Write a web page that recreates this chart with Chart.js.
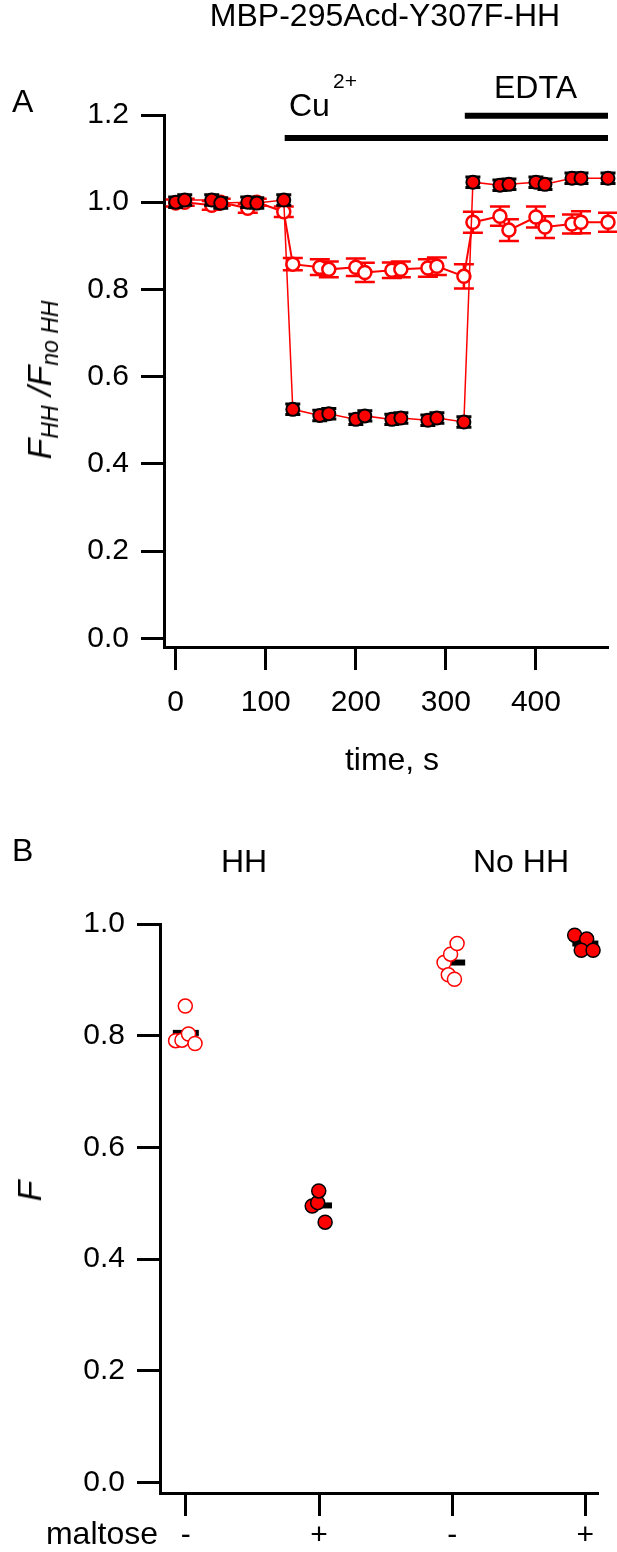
<!DOCTYPE html>
<html><head><meta charset="utf-8">
<script src="https://cdn.jsdelivr.net/npm/chart.js@4/dist/chart.umd.min.js"></script>
<style>
html,body{margin:0;padding:0;background:#fff;}
body{width:617px;height:1552px;position:relative;overflow:hidden;font-family:'Liberation Sans',Arial,sans-serif;color:#000;}
.t{position:absolute;white-space:nowrap;line-height:1;font-size:32px;}
.c{transform:translateX(-50%);}
.rot{transform:translate(-50%,-50%) rotate(-90deg);font-style:italic;}
#wa{position:absolute;left:0;top:0;width:617px;height:800px;}
#wb{position:absolute;left:0;top:800px;width:617px;height:752px;}
sub{font-size:23px;vertical-align:-7px;line-height:1;}
</style></head><body>
<div id="wa"><canvas id="ca"></canvas></div>
<div id="wb"><canvas id="cb"></canvas></div>
<div class="t c" style="left:385px;top:-1px;">MBP-295Acd-Y307F-HH</div>
<div class="t" style="left:12px;top:85px;">A</div>
<div class="t" style="left:289px;top:89px;">Cu</div>
<div class="t" style="left:333px;top:70px;font-size:21px;">2+</div>
<div class="t" style="left:494px;top:71px;">EDTA</div>
<div class="t c" style="left:392px;top:743px;">time, s</div>
<div class="t rot" style="left:42px;top:380px;font-size:34px;">F<sub>HH</sub> /F<sub>no HH</sub></div>
<div class="t" style="left:12px;top:834px;">B</div>
<div class="t c" style="left:244px;top:845px;">HH</div>
<div class="t c" style="left:521px;top:845px;">No HH</div>
<div class="t" style="right:459px;top:1517px;">maltose</div>
<div class="t rot" style="left:29px;top:1191px;font-size:34px;">F</div>
<script>
// ---------- Panel A data ----------
const timeS = [0,10,40,50,80,90,120,130,160,170,200,210,240,250,280,290,320,330,360,370,400,410,440,450,480];
const plusMaltose = [1.000,1.005,1.005,0.998,1.000,0.998,1.005,0.525,0.511,0.515,0.502,0.510,0.502,0.505,0.500,0.505,0.496,1.046,1.039,1.041,1.046,1.041,1.055,1.055,1.055];
const plusMaltoseErr = [0.012,0.012,0.012,0.012,0.012,0.012,0.012,0.012,0.012,0.012,0.012,0.012,0.012,0.012,0.012,0.012,0.012,0.012,0.012,0.012,0.012,0.012,0.012,0.012,0.012];
const minusMaltose = [0.998,1.000,0.993,1.000,0.986,1.000,0.978,0.858,0.851,0.846,0.851,0.839,0.844,0.846,0.849,0.853,0.830,0.954,0.968,0.936,0.966,0.943,0.950,0.954,0.954];
const minusMaltoseErr = [0.008,0.008,0.010,0.008,0.010,0.008,0.012,0.014,0.018,0.018,0.020,0.022,0.018,0.018,0.020,0.020,0.028,0.024,0.022,0.025,0.024,0.025,0.022,0.025,0.022];
const timeTicks = [0,100,200,300,400];
const ratioTicks = [0,0.2,0.4,0.6,0.8,1.0,1.2];
const treatmentSpans = [[121,480],[321,480]];   // Cu2+, EDTA (s)

// ---------- Panel B data ----------
const maltoseLabels = ['-','+','-','+'];
const hhMinus = [0.791,0.792,0.803,0.786,0.853];
const hhMinusJitter = [-0.077,-0.029,0.020,0.069,-0.004];
const hhPlus = [0.495,0.501,0.522,0.466];
const hhPlusJitter = [-0.051,-0.010,-0.002,0.046];
const noHhMinus = [0.931,0.946,0.965,0.909,0.901];
const noHhMinusJitter = [-0.061,-0.012,0.037,-0.029,0.017];
const noHhPlus = [0.980,0.973,0.953,0.953];
const noHhPlusJitter = [-0.080,0.010,-0.031,0.058];
const groupMeans = [0.805,0.496,0.931,0.965];
const fTicks = [0,0.2,0.4,0.6,0.8,1.0];

Chart.defaults.font.family = "'Liberation Sans', Arial, sans-serif";
Chart.defaults.font.size = 30;
Chart.defaults.color = '#000';
Chart.defaults.animation = false;

const errorBars = {
  id:'errorBars',
  beforeDatasetDraw(chart, args){
    const ds = chart.data.datasets[args.index];
    if(!ds.errors) return;
    const ctx = chart.ctx, ys = chart.scales.y;
    ctx.save();
    ctx.strokeStyle = ds.errorColor; ctx.lineWidth = ds.errorWidth; ctx.lineCap='butt';
    args.meta.data.forEach((pt,j)=>{
      const v = ds.data[j].y, e = ds.errors[j];
      const y1 = ys.getPixelForValue(v+e), y2 = ys.getPixelForValue(v-e), x = pt.x, c = ds.capHalf;
      ctx.beginPath();
      ctx.moveTo(x,y1); ctx.lineTo(x,y2);
      ctx.moveTo(x-c,y1); ctx.lineTo(x+c,y1);
      ctx.moveTo(x-c,y2); ctx.lineTo(x+c,y2);
      ctx.stroke();
    });
    ctx.restore();
  }
};

const treatmentBars = {
  id:'treatmentBars',
  afterDraw(chart, args, opts){
    const ctx = chart.ctx, xs = chart.scales.x, ys = chart.scales.y;
    ctx.save(); ctx.strokeStyle = '#000'; ctx.lineWidth = 6;
    opts.spans.forEach((s,i)=>{
      const y = ys.getPixelForValue(opts.levels[i]);
      ctx.beginPath(); ctx.moveTo(xs.getPixelForValue(s[0]), y); ctx.lineTo(xs.getPixelForValue(s[1]), y); ctx.stroke();
    });
    ctx.restore();
  }
};

function axisCommon(){
  return {
    border:{display:true,color:'#000',width:3},
    grid:{display:true,drawOnChartArea:false,drawTicks:true,tickLength:23,tickWidth:3,tickColor:'#000'},
  };
}

new Chart(document.getElementById('ca'), {
  type:'line',
  data:{datasets:[
    {label:'+ maltose', data: timeS.map((t,i)=>({x:t,y:plusMaltose[i]})), errors: plusMaltoseErr,
     errorColor:'#000', errorWidth:3, capHalf:7.5,
     borderColor:'#ff0000', borderWidth:1.5, pointRadius:6.5, pointBorderWidth:2,
     pointBackgroundColor:'#ff0000', pointBorderColor:'#000', clip:false, tension:0},
    {label:'- maltose', data: timeS.map((t,i)=>({x:t,y:minusMaltose[i]})), errors: minusMaltoseErr,
     errorColor:'#ff0000', errorWidth:2.5, capHalf:10,
     borderColor:'#ff0000', borderWidth:2, pointRadius:6.5, pointBorderWidth:2.5,
     pointBackgroundColor:'#fff', pointBorderColor:'#ff0000', clip:false, tension:0}
  ]},
  options:{
    responsive:true, maintainAspectRatio:false, animation:false,
    layout:{padding:{left:0,right:9,top:115,bottom:73}},
    plugins:{legend:{display:false},tooltip:{enabled:false},
      treatmentBars:{spans:treatmentSpans, levels:[1.147,1.198]}},
    scales:{
      x:Object.assign(axisCommon(),{type:'linear',min:-13,max:480,
        afterBuildTicks:s=>{s.ticks=timeTicks.map(v=>({value:v}));},
        afterFit:s=>{s.height=80;},
        ticks:{padding:15,maxRotation:0,autoSkip:false,callback:v=>String(v)}}),
      y:Object.assign(axisCommon(),{type:'linear',min:-0.02,max:1.2,
        afterBuildTicks:s=>{s.ticks=ratioTicks.map(v=>({value:v}));},
        afterFit:s=>{s.width=164;},
        ticks:{padding:12,callback:v=>Number(v).toFixed(1)}})
    }
  },
  plugins:[errorBars, treatmentBars]
});

const jit = (vals, jits, g) => vals.map((v,i)=>({x:g+jits[i], y:v}));
new Chart(document.getElementById('cb'), {
  type:'scatter',
  data:{datasets:[
    {label:'- maltose', data: jit(hhMinus,hhMinusJitter,0).concat(jit(noHhMinus,noHhMinusJitter,2)),
     pointRadius:7, pointBorderWidth:1.5, pointBackgroundColor:'#fff', pointBorderColor:'#ff0000', clip:false},
    {label:'+ maltose', data: jit(hhPlus,hhPlusJitter,1).concat(jit(noHhPlus,noHhPlusJitter,3)),
     pointRadius:7, pointBorderWidth:1.5, pointBackgroundColor:'#ff0000', pointBorderColor:'#000', clip:false},
    {label:'mean', data: groupMeans.map((m,i)=>({x:i,y:m})), pointStyle:'line', pointRadius:13,
     pointBorderWidth:6, pointBorderColor:'#000', pointBackgroundColor:'#000', clip:false}
  ]},
  options:{
    responsive:true, maintainAspectRatio:false, animation:false,
    layout:{padding:{left:0,right:7,top:124,bottom:9}},
    plugins:{legend:{display:false},tooltip:{enabled:false}},
    scales:{
      x:Object.assign(axisCommon(),{type:'linear',min:-0.194,max:3.095,
        afterBuildTicks:s=>{s.ticks=maltoseLabels.map((l,i)=>({value:i}));},
        afterFit:s=>{s.height=50;},
        ticks:{padding:2,maxRotation:0,autoSkip:false,callback:(v,i)=>maltoseLabels[i]}}),
      y:Object.assign(axisCommon(),{type:'linear',min:-0.019,max:1.0,
        afterBuildTicks:s=>{s.ticks=fTicks.map(v=>({value:v}));},
        afterFit:s=>{s.width=160;},
        ticks:{padding:12,callback:v=>Number(v).toFixed(1)}})
    }
  }
});
</script>
</body></html>
